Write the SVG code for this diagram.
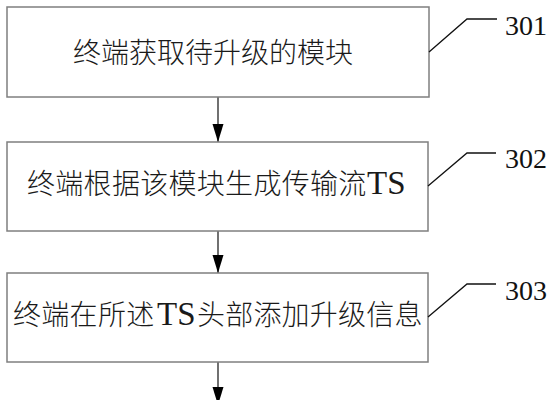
<svg xmlns="http://www.w3.org/2000/svg" width="556" height="400" viewBox="0 0 556 400">
<style>
.box{fill:#ffffff;stroke:#7f7f7f;stroke-width:1.5}
.t{font-family:"Noto Sans CJK SC","Noto Sans CJK JP",sans-serif;font-size:28px;font-weight:300;fill:#1a1a1a}
.lat{font-family:"Liberation Serif","DejaVu Serif",serif;font-size:33px;font-weight:normal}
.num{font-family:"Liberation Serif","DejaVu Serif",serif;font-size:28px;fill:#111}
.lead{fill:none;stroke:#111;stroke-width:1.3}
.conn{stroke:#111;stroke-width:1.2;fill:none;marker-end:url(#ah)}
</style>
<defs>
<marker id="ah" markerUnits="userSpaceOnUse" markerWidth="19" markerHeight="12" refX="18" refY="6" orient="auto">
<path d="M0,0.5 L18,6 L0,11.5 Z" fill="#000"/>
</marker>
</defs>
<rect width="556" height="400" fill="#ffffff"/>
<g id="connectors">
<line class="conn" x1="218" y1="97" x2="218" y2="142"/>
<line class="conn" x1="218" y1="231" x2="218" y2="273"/>
<line class="conn" x1="218" y1="362" x2="218" y2="405"/>
</g>
<g id="node301">
<rect class="box" x="7" y="7" width="422" height="90"/>
<text class="t" x="73" y="63">终端获取待升级的模块</text>
<path class="lead" d="M429,52 L467,19 L497,19"/>
<text class="num" x="505" y="35">301</text>
</g>
<g id="node302">
<rect class="box" x="7" y="142" width="421" height="89"/>
<text class="t" x="27" y="194" letter-spacing="0.3">终端根据该模块生成传输流<tspan class="lat" x="367" letter-spacing="0">TS</tspan></text>
<path class="lead" d="M428,186 L467,153 L496,153"/>
<text class="num" x="505" y="168">302</text>
</g>
<g id="node303">
<rect class="box" x="7" y="273" width="421" height="89"/>
<text class="t" x="13" y="325" letter-spacing="0.3">终端在所述<tspan class="lat" x="157" letter-spacing="0">TS</tspan><tspan x="197" letter-spacing="0.2">头部添加升级信息</tspan></text>
<path class="lead" d="M428,317 L467,284 L496,284"/>
<text class="num" x="505" y="300">303</text>
</g>
</svg>
